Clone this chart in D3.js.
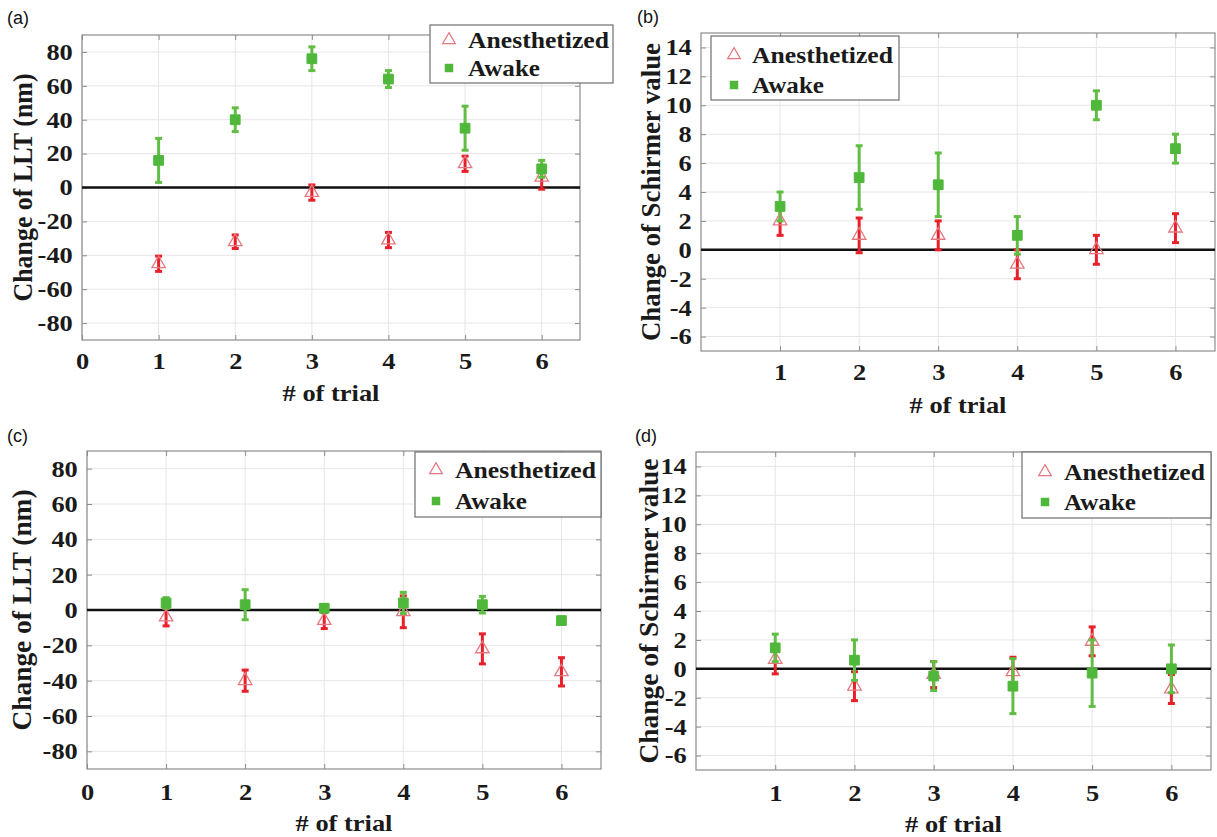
<!DOCTYPE html>
<html>
<head>
<meta charset="utf-8">
<script src="https://cdn.jsdelivr.net/npm/d3@7/dist/d3.min.js"></script>
<style>
  html, body { margin: 0; padding: 0; background: #fff; }
  svg { display: block; }
</style>
</head>
<body>
<svg id="chart" width="1217" height="837"></svg>
<script>
// ---------------- DATA ----------------
const trials = [1, 2, 3, 4, 5, 6];
const seriesNames = ["Anesthetized", "Awake"];

const lltTicks = [-80, -60, -40, -20, 0, 20, 40, 60, 80];
const schirmerTicks = [-6, -4, -2, 0, 2, 4, 6, 8, 10, 12, 14];
const xTicksWithZero = [0, 1, 2, 3, 4, 5, 6];
const xTicksNoZero = [1, 2, 3, 4, 5, 6];

// (a) change of LLT
const aAnesMean = [-45, -32, -3, -31, 14, 6];
const aAnesErr = [4.5, 4, 4.5, 4.5, 4.5, 7];
const aAwakeMean = [16, 40, 76, 64, 35, 11];
const aAwakeErr = [13, 7, 7, 5, 13, 5];

// (b) change of Schirmer value
const bAnesMean = [2, 1, 1, -1, 0, 1.5];
const bAnesErr = [1, 1.2, 1, 1, 1, 1];
const bAwakeMean = [3, 5, 4.5, 1, 10, 7];
const bAwakeErr = [1, 2.2, 2.2, 1.3, 1, 1];

// (c) change of LLT
const cAnesMean = [-4, -40, -6, -1, -22, -35];
const cAnesErr = [5, 6, 4.5, 9, 8.5, 8];
const cAwakeMean = [4, 3, 1, 4, 3, -6];
const cAwakeErr = [3, 8.5, 2, 6, 4.7, 2];

// (d) change of Schirmer value
const dAnesMean = [0.65, -1.2, -0.4, -0.2, 1.9, -1.4];
const dAnesErr = [1, 1, 0.9, 1, 1, 1];
const dAwakeMean = [1.45, 0.6, -0.5, -1.2, -0.3, 0];
const dAwakeErr = [0.95, 1.4, 1, 1.9, 2.3, 1.65];

// ---------------- STYLE ----------------
const SERIF = "'Liberation Serif', 'Times New Roman', Times, serif";
const SANS = "'Liberation Sans', Arial, sans-serif";
const SX = 1.15;             // horizontal stretch of the original figure text
const RED = "#e8202a";
const PINK = "#e47880";
const GREEN_BAR = "#62bd44";
const GREEN_SQ = "#4fb83a";
const GRID = "#e6e6e6";
const BORDER = "#8c8c8c";
const fmt = d => String(d);

const svg = d3.select("#chart");
svg.append("rect").attr("width", 1217).attr("height", 837).attr("fill", "#fff");

function panel(cfg) {
  const g = svg.append("g");
  const x = d3.scaleLinear().domain([0, 6.5]).range([cfg.left, cfg.right]);
  const y = d3.scaleLinear().domain(cfg.yDomain).range([cfg.bottom, cfg.top]);

  g.append("rect").attr("x", cfg.left).attr("y", cfg.top)
    .attr("width", cfg.right - cfg.left).attr("height", cfg.bottom - cfg.top)
    .attr("fill", "#fff");

  // grid
  g.append("g").selectAll("line").data(cfg.yTicks).join("line")
    .attr("x1", cfg.left).attr("x2", cfg.right)
    .attr("y1", d => y(d)).attr("y2", d => y(d))
    .attr("stroke", GRID).attr("stroke-width", 1);
  g.append("g").selectAll("line").data(cfg.xTicks).join("line")
    .attr("y1", cfg.top).attr("y2", cfg.bottom)
    .attr("x1", d => x(d)).attr("x2", d => x(d))
    .attr("stroke", GRID).attr("stroke-width", 1);

  // axes (ticks inward)
  const yAxisL = g.append("g").attr("transform", `translate(${cfg.left},0)`)
    .call(d3.axisLeft(y).tickValues(cfg.yTicks).tickSize(-5).tickPadding(8).tickFormat(fmt));
  const yAxisR = g.append("g").attr("transform", `translate(${cfg.right},0)`)
    .call(d3.axisRight(y).tickValues(cfg.yTicks).tickSize(-5).tickFormat(""));
  const xAxisB = g.append("g").attr("transform", `translate(0,${cfg.bottom})`)
    .call(d3.axisBottom(x).tickValues(cfg.xTicks).tickSize(-5).tickPadding(cfg.xPad).tickFormat(fmt));
  const xAxisT = g.append("g").attr("transform", `translate(0,${cfg.top})`)
    .call(d3.axisTop(x).tickValues(cfg.xTicks).tickSize(-5).tickFormat(""));
  [yAxisL, yAxisR, xAxisB, xAxisT].forEach(a => {
    a.select(".domain").remove();
    a.selectAll(".tick line").attr("stroke", BORDER).attr("stroke-width", 1);
  });
  [yAxisL, xAxisB].forEach(a => {
    a.selectAll(".tick text")
      .attr("fill", "#1a1a1a")
      .style("font-family", SERIF).style("font-weight", "bold").style("font-size", "23px")
      .attr("transform", `scale(${SX},1)`);
  });

  // border
  g.append("rect").attr("x", cfg.left).attr("y", cfg.top)
    .attr("width", cfg.right - cfg.left).attr("height", cfg.bottom - cfg.top)
    .attr("fill", "none").attr("stroke", BORDER).attr("stroke-width", 1.2);

  // zero line
  g.append("line").attr("x1", cfg.left).attr("x2", cfg.right)
    .attr("y1", y(0)).attr("y2", y(0))
    .attr("stroke", "#111").attr("stroke-width", 2.6);

  // error bars + markers
  function errorBars(means, errs, color) {
    const eg = g.append("g");
    const rows = trials.map((t, i) => ({ t, m: means[i], e: errs[i] }));
    eg.selectAll("line.v").data(rows).join("line").attr("class", "v")
      .attr("x1", d => x(d.t)).attr("x2", d => x(d.t))
      .attr("y1", d => y(d.m - d.e)).attr("y2", d => y(d.m + d.e))
      .attr("stroke", color).attr("stroke-width", 3);
    ["lo", "hi"].forEach(k => {
      eg.selectAll("line." + k).data(rows).join("line").attr("class", k)
        .attr("x1", d => x(d.t) - 3.5).attr("x2", d => x(d.t) + 3.5)
        .attr("y1", d => y(k === "lo" ? d.m - d.e : d.m + d.e))
        .attr("y2", d => y(k === "lo" ? d.m - d.e : d.m + d.e))
        .attr("stroke", color).attr("stroke-width", 3);
    });
    return rows;
  }
  const anesRows = errorBars(cfg.anesMean, cfg.anesErr, RED);
  g.append("g").selectAll("path").data(anesRows).join("path")
    .attr("d", d3.symbol(d3.symbolTriangle, 78)())
    .attr("transform", d => `translate(${x(d.t)},${y(d.m)})`)
    .attr("fill", "none").attr("stroke", PINK).attr("stroke-width", 1.3);
  const awakeRows = errorBars(cfg.awakeMean, cfg.awakeErr, GREEN_BAR);
  g.append("g").selectAll("path").data(awakeRows).join("path")
    .attr("d", d3.symbol(d3.symbolSquare, 95)())
    .attr("transform", d => `translate(${x(d.t)},${y(d.m)})`)
    .attr("fill", GREEN_SQ).attr("stroke", GREEN_SQ).attr("stroke-width", 1);

  // axis titles
  g.append("text")
    .attr("transform", `translate(${(cfg.left + cfg.right) / 2},${cfg.xTitleY}) scale(${SX},1)`)
    .attr("text-anchor", "middle").attr("dominant-baseline", "central")
    .style("font-family", SERIF).style("font-weight", "bold").style("font-size", "23px")
    .attr("fill", "#1a1a1a").text("# of trial");
  g.append("text")
    .attr("transform", `translate(${cfg.yTitleX},${(cfg.top + cfg.bottom) / 2}) scale(${SX},1) rotate(-90)`)
    .attr("text-anchor", "middle").attr("dominant-baseline", "central")
    .attr("textLength", cfg.yTitleLen).attr("lengthAdjust", "spacingAndGlyphs")
    .style("font-family", SERIF).style("font-weight", "bold").style("font-size", cfg.yTitleFont + "px")
    .attr("fill", "#1a1a1a").text(cfg.yTitle);

  // panel label
  svg.append("text").attr("x", cfg.labelX).attr("y", cfg.labelY)
    .attr("dominant-baseline", "central")
    .style("font-family", SANS).style("font-size", "18px").attr("fill", "#111")
    .text(cfg.label);

  // legend
  const L = cfg.legend;
  const lg = svg.append("g");
  lg.append("rect").attr("x", L.x0).attr("y", L.y0)
    .attr("width", L.x1 - L.x0).attr("height", L.y1 - L.y0)
    .attr("fill", "#fff").attr("stroke", "#6e6e6e").attr("stroke-width", 1.2);
  lg.append("path").attr("d", d3.symbol(d3.symbolTriangle, 70)())
    .attr("transform", `translate(${L.mx},${L.r1})`)
    .attr("fill", "none").attr("stroke", PINK).attr("stroke-width", 1.2);
  lg.append("path").attr("d", d3.symbol(d3.symbolSquare, 72)())
    .attr("transform", `translate(${L.mx},${L.r2})`)
    .attr("fill", GREEN_SQ);
  [[seriesNames[0], L.r1, 141], [seriesNames[1], L.r2, 72]].forEach(([t, ry, len]) => {
    lg.append("text").attr("x", L.tx).attr("y", ry)
      .attr("dominant-baseline", "central")
      .attr("textLength", len).attr("lengthAdjust", "spacingAndGlyphs")
      .style("font-family", SERIF).style("font-weight", "bold").style("font-size", "24px")
      .attr("fill", "#1a1a1a").text(t);
  });
}

panel({
  label: "(a)", labelX: 7, labelY: 18,
  left: 82, right: 580, top: 35, bottom: 340, yDomain: [-90, 90],
  yTicks: lltTicks, xTicks: xTicksWithZero, xPad: 13, xTitleY: 393,
  yTitle: "Change of LLT (nm)", yTitleX: 23, yTitleLen: 228, yTitleFont: 23,
  anesMean: aAnesMean, anesErr: aAnesErr, awakeMean: aAwakeMean, awakeErr: aAwakeErr,
  legend: { x0: 430, x1: 613, y0: 25, y1: 83, mx: 449, tx: 468, r1: 40, r2: 68 }
});
panel({
  label: "(b)", labelX: 637, labelY: 17,
  left: 701, right: 1215, top: 33, bottom: 351, yDomain: [-7, 15],
  yTicks: schirmerTicks, xTicks: xTicksNoZero, xPad: 13, xTitleY: 405,
  yTitle: "Change of Schirmer value", yTitleX: 651, yTitleLen: 298, yTitleFont: 24,
  anesMean: bAnesMean, anesErr: bAnesErr, awakeMean: bAwakeMean, awakeErr: bAwakeErr,
  legend: { x0: 711, x1: 899, y0: 36, y1: 100, mx: 734, tx: 752, r1: 55, r2: 85 }
});
panel({
  label: "(c)", labelX: 7, labelY: 436,
  left: 87, right: 601, top: 451, bottom: 769, yDomain: [-90, 90],
  yTicks: lltTicks, xTicks: xTicksWithZero, xPad: 15, xTitleY: 823,
  yTitle: "Change of LLT (nm)", yTitleX: 22, yTitleLen: 241, yTitleFont: 23,
  anesMean: cAnesMean, anesErr: cAnesErr, awakeMean: cAwakeMean, awakeErr: cAwakeErr,
  legend: { x0: 415, x1: 601, y0: 452, y1: 517, mx: 436, tx: 455, r1: 470, r2: 501 }
});
panel({
  label: "(d)", labelX: 635, labelY: 436,
  left: 696, right: 1211, top: 452, bottom: 770, yDomain: [-7, 15],
  yTicks: schirmerTicks, xTicks: xTicksNoZero, xPad: 15, xTitleY: 824,
  yTitle: "Change of Schirmer value", yTitleX: 649, yTitleLen: 305, yTitleFont: 24,
  anesMean: dAnesMean, anesErr: dAnesErr, awakeMean: dAwakeMean, awakeErr: dAwakeErr,
  legend: { x0: 1022, x1: 1211, y0: 452, y1: 518, mx: 1045, tx: 1064, r1: 472, r2: 502 }
});
</script>
</body>
</html>
